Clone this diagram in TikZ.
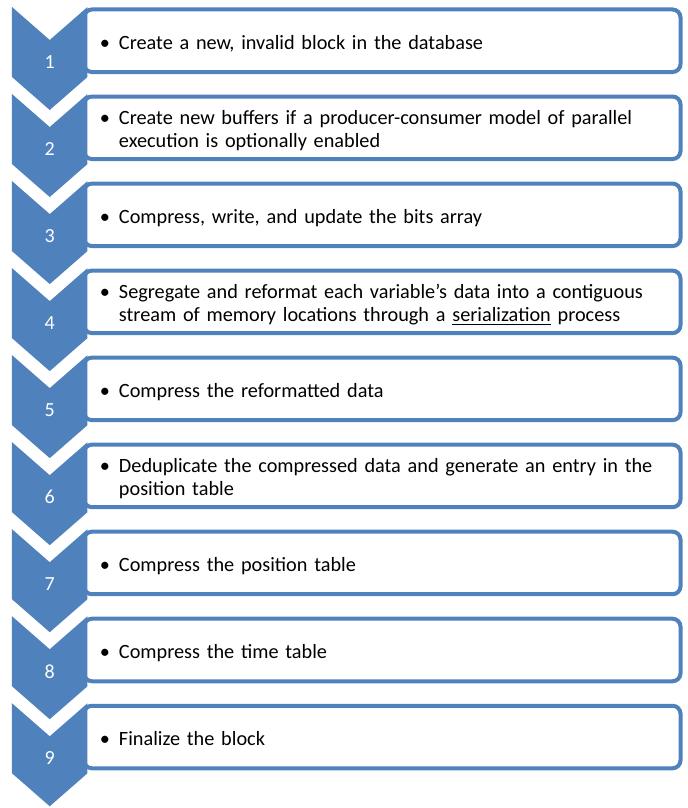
\documentclass[tikz,border=0pt]{standalone}
\usepackage{fontspec}
\setmainfont{Carlito}
\usetikzlibrary{positioning}
\definecolor{stepblue}{HTML}{4F81BD}
% bullet followed by a block of text lines (struts keep the baselines in place)
\newcommand{\bulletitem}[1]{\makebox[14.25pt][l]{\textbullet}\parbox[t]{415pt}{\raggedright\rule{0pt}{17.8pt}#1\rule[-5pt]{0pt}{0pt}}}
% chevron drawn to the left of a box
\newcommand{\stepchevron}[1]{%
    \fill[stepblue, shift={(#1.west)}] (-54pt,25.31pt) -- (-25.69pt,0.56pt) -- (2.63pt,25.31pt)
        -- (2.63pt,-27.19pt) -- (-25.69pt,-51.94pt) -- (-54pt,-27.19pt) -- cycle;}
\tikzset{
    %Define style for the text boxes
    stepbox/.style={
           rectangle,
           rounded corners=6pt,
           draw=stepblue, line width=3pt,
           fill=white,
           text width=423.4pt,
           inner xsep=12pt,
           minimum height=46.9pt,
           outer sep=0pt,
           align=left,
           font=\fontsize{15.2}{17.25}\selectfont},
    %Define style for the step numbers
    num/.style={
           text=white,
           inner sep=0pt,
           font=\fontsize{15}{17}\selectfont}
}
\begin{document}
\begin{tikzpicture}[node distance=18.375pt]
    \useasboundingbox (0,0) rectangle (516pt,-606pt);
 %boxes
    \node[stepbox] (s1) at (286.69pt,-30.56pt) {\bulletitem{Create a new, invalid block in the database}};
    \node[stepbox, below=of s1] (s2) {\bulletitem{Create new buffers if a producer-consumer model of parallel\\execution is optionally enabled}};
    \node[stepbox, below=of s2] (s3) {\bulletitem{Compress, write, and update the bits array}};
    \node[stepbox, below=of s3] (s4) {\bulletitem{Segregate and reformat each variable’s data into a contiguous\\stream of memory locations through a \underline{serialization} process}};
    \node[stepbox, below=of s4] (s5) {\bulletitem{Compress the reformatted data}};
    \node[stepbox, below=of s5] (s6) {\bulletitem{Deduplicate the compressed data and generate an entry in the\\position table}};
    \node[stepbox, below=of s6] (s7) {\bulletitem{Compress the position table}};
    \node[stepbox, below=of s7] (s8) {\bulletitem{Compress the time table}};
    \node[stepbox, below=of s8] (s9) {\bulletitem{Finalize the block}};
 %chevrons
    \stepchevron{s1}
    \stepchevron{s2}
    \stepchevron{s3}
    \stepchevron{s4}
    \stepchevron{s5}
    \stepchevron{s6}
    \stepchevron{s7}
    \stepchevron{s8}
    \stepchevron{s9}
 %numbers
    \node[num] (n1) at ([shift={(-25.69pt,-15.94pt)}]s1.west) {1};
    \node[num] (n2) at ([shift={(-25.69pt,-15.94pt)}]s2.west) {2};
    \node[num] (n3) at ([shift={(-25.69pt,-15.94pt)}]s3.west) {3};
    \node[num] (n4) at ([shift={(-25.69pt,-15.94pt)}]s4.west) {4};
    \node[num] (n5) at ([shift={(-25.69pt,-15.94pt)}]s5.west) {5};
    \node[num] (n6) at ([shift={(-25.69pt,-15.94pt)}]s6.west) {6};
    \node[num] (n7) at ([shift={(-25.69pt,-15.94pt)}]s7.west) {7};
    \node[num] (n8) at ([shift={(-25.69pt,-15.94pt)}]s8.west) {8};
    \node[num] (n9) at ([shift={(-25.69pt,-15.94pt)}]s9.west) {9};
\end{tikzpicture}
\end{document}
